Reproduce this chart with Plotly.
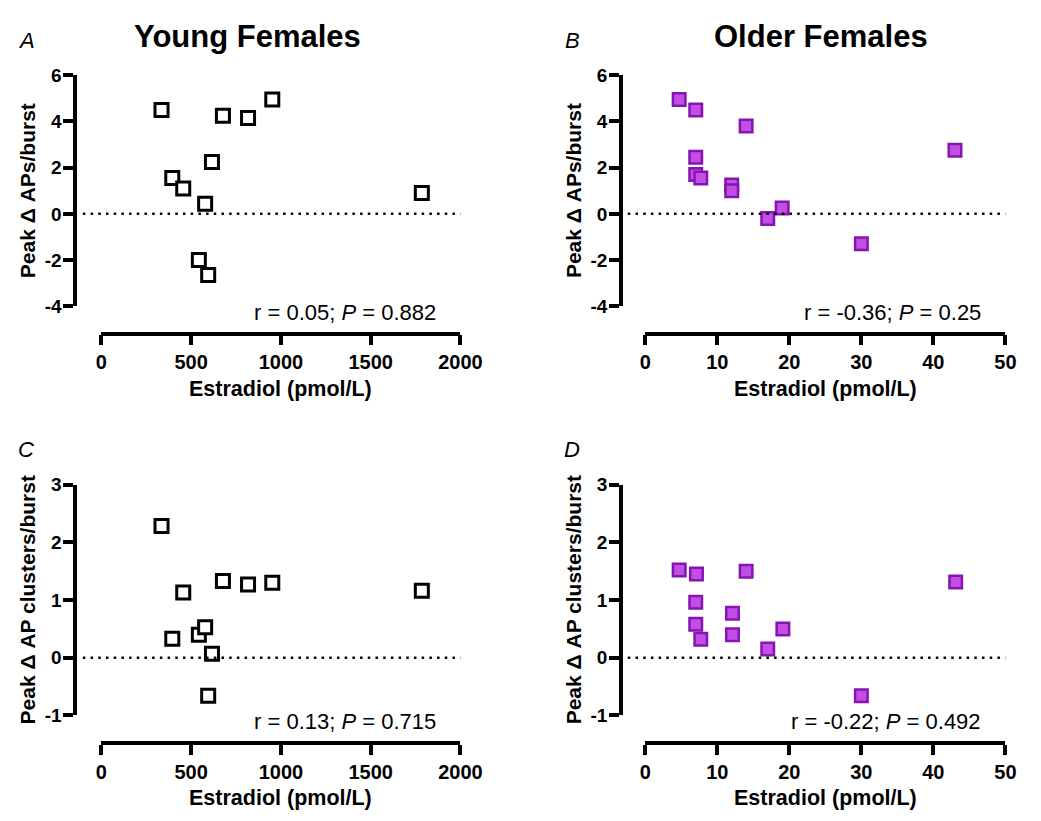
import plotly.graph_objects as go

# ---------------- data ----------------
young_estradiol = [335, 395, 456, 543, 578, 595, 616, 677, 817, 952, 1785]
young_aps = [4.5, 1.55, 1.1, -2.0, 0.44, -2.65, 2.25, 4.25, 4.15, 4.95, 0.9]
young_clusters = [2.28, 0.33, 1.13, 0.40, 0.53, -0.66, 0.07, 1.33, 1.27, 1.30, 1.16]

older_estradiol = [4.7, 7.0, 7.0, 7.0, 7.7, 12.0, 12.0, 14.0, 17.0, 19.0, 30.0, 43.0]
older_aps = [4.95, 4.5, 2.45, 1.7, 1.55, 1.25, 1.0, 3.8, -0.2, 0.25, -1.3, 2.75]
older_estradiol_d = [7.1, 7.0, 7.0, 4.7, 7.7, 12.1, 12.1, 14.0, 17.0, 19.1, 30.0, 43.1]
older_clusters = [1.45, 0.96, 0.58, 1.52, 0.32, 0.77, 0.40, 1.5, 0.15, 0.5, -0.66, 1.31]

young_xticks = [0, 500, 1000, 1500, 2000]
older_xticks = [0, 10, 20, 30, 40, 50]
aps_yticks = [-4, -2, 0, 2, 4, 6]
clusters_yticks = [-1, 0, 1, 2, 3]

panel_letters = ["A", "B", "C", "D"]
titles = ["Young Females", "Older Females"]
stats = ["r = 0.05; <i>P</i> = 0.882", "r = -0.36; <i>P</i> = 0.25",
         "r = 0.13; <i>P</i> = 0.715", "r = -0.22; <i>P</i> = 0.492"]
ytitles = ["Peak Δ APs/burst", "Peak Δ APs/burst",
           "Peak Δ AP clusters/burst", "Peak Δ AP clusters/burst"]
xtitle = "Estradiol (pmol/L)"

# ---------------- layout geometry (pixels) ----------------
W, H = 1041, 821
FONT = "Liberation Sans, Arial, Helvetica, sans-serif"
cols = [dict(x0=98, x1=467, yline=71, dot0=79, xrange=[0, 2000], ticks=young_xticks),
        dict(x0=657, x1=1027, yline=632, dot0=639, xrange=[0, 50], ticks=older_xticks)]
rows = [dict(ytop=67, ybot=304, xline=332, yrange=[-4, 6], ticks=aps_yticks),
        dict(ytop=487, ybot=724, xline=752, yrange=[-1, 3], ticks=clusters_yticks)]


def px(p):
    return p / W


def py(p):
    return 1 - p / H


def lab(v):
    return str(v).replace("\u2212", "-")


open_marker = dict(symbol="square", size=13, color="white",
                   line=dict(color="black", width=3))
purple_marker = dict(symbol="square", size=12.5, color="#C24EE6",
                     line=dict(color="#8515B0", width=2.5))

series = [
    (young_estradiol, young_aps, open_marker),
    (older_estradiol, older_aps, purple_marker),
    (young_estradiol, young_clusters, open_marker),
    (older_estradiol_d, older_clusters, purple_marker),
]

fig = go.Figure()
layout = dict(width=W, height=H, margin=dict(l=0, r=0, t=0, b=0),
              paper_bgcolor="white", plot_bgcolor="white", showlegend=False,
              font=dict(family=FONT, color="black"))
annotations = []
shapes = []

for i, (xs, ys, mk) in enumerate(series):
    r, c = divmod(i, 2)
    col, row = cols[c], rows[r]
    n = "" if i == 0 else str(i + 1)
    xa, ya = "x" + n, "y" + n
    fig.add_trace(go.Scatter(x=xs, y=ys, mode="markers", marker=mk,
                             xaxis=xa, yaxis=ya, cliponaxis=False,
                             hoverinfo="skip"))
    common = dict(showline=True, linewidth=3.5, linecolor="black",
                  ticks="outside", ticklen=10, tickwidth=3.5, tickcolor="black",
                  showgrid=False, zeroline=False, anchor="free")
    layout["xaxis" + n] = dict(
        common, domain=[px(col["x0"]), px(col["x1"])], range=col["xrange"],
        tickmode="array", tickvals=col["ticks"],
        ticktext=[lab(v) for v in col["ticks"]], position=py(row["xline"]),
        tickfont=dict(family=FONT, size=20, color="black", weight="bold"))
    layout["yaxis" + n] = dict(
        common, domain=[py(row["ybot"]), py(row["ytop"])], range=row["yrange"],
        tickmode="array", tickvals=row["ticks"],
        ticktext=[lab(v) for v in row["ticks"]],
        position=px(col["yline"]), ticklabelstandoff=-2,
        tickfont=dict(family=FONT, size=19, color="black", weight="bold"))
    # dotted zero line
    shapes.append(dict(type="line", xref="paper", yref=ya,
                       x0=px(col["dot0"]), x1=px(col["x1"]), y0=0, y1=0,
                       line=dict(color="black", width=2.5, dash="2.5px,5.2px")))
    # stats text
    annotations.append(dict(text=stats[i], xref="paper", yref="paper",
                            x=px(col["x1"] - 23), y=py(row["ybot"] + 6),
                            xanchor="right", yanchor="middle", showarrow=False,
                            font=dict(family=FONT, size=22, color="black")))
    # y title
    annotations.append(dict(text=ytitles[i], xref="paper", yref="paper",
                            x=px(col["yline"] - 49),
                            y=py((row["ytop"] + row["ybot"]) / 2),
                            textangle=-90, xanchor="center", yanchor="middle",
                            showarrow=False,
                            font=dict(family=FONT, size=21, color="black",
                                      weight="bold")))
    # x title
    annotations.append(dict(text=xtitle, xref="paper", yref="paper",
                            x=px((col["x0"] + col["x1"]) / 2),
                            y=py(row["xline"] + 57),
                            xanchor="center", yanchor="middle", showarrow=False,
                            font=dict(family=FONT, size=21.5, color="black",
                                      weight="bold")))
    # panel letter
    annotations.append(dict(text="<i>" + panel_letters[i] + "</i>",
                            xref="paper", yref="paper",
                            x=px(col["yline"] - 50), y=py(row["ytop"] - 36),
                            xanchor="center", yanchor="middle", showarrow=False,
                            font=dict(family=FONT, size=22, color="black")))

# column titles
for c, t in enumerate(titles):
    col = cols[c]
    annotations.append(dict(text=t, xref="paper", yref="paper",
                            x=px((col["x0"] + col["x1"]) / 2 + (-34 if c == 0 else -4)),
                            y=py(27), xanchor="center", yanchor="middle",
                            showarrow=False,
                            font=dict(family=FONT, size=31, color="black",
                                      weight="bold")))

layout["annotations"] = annotations
layout["shapes"] = shapes
fig.update_layout(**layout)
fig.write_html("out.html")
